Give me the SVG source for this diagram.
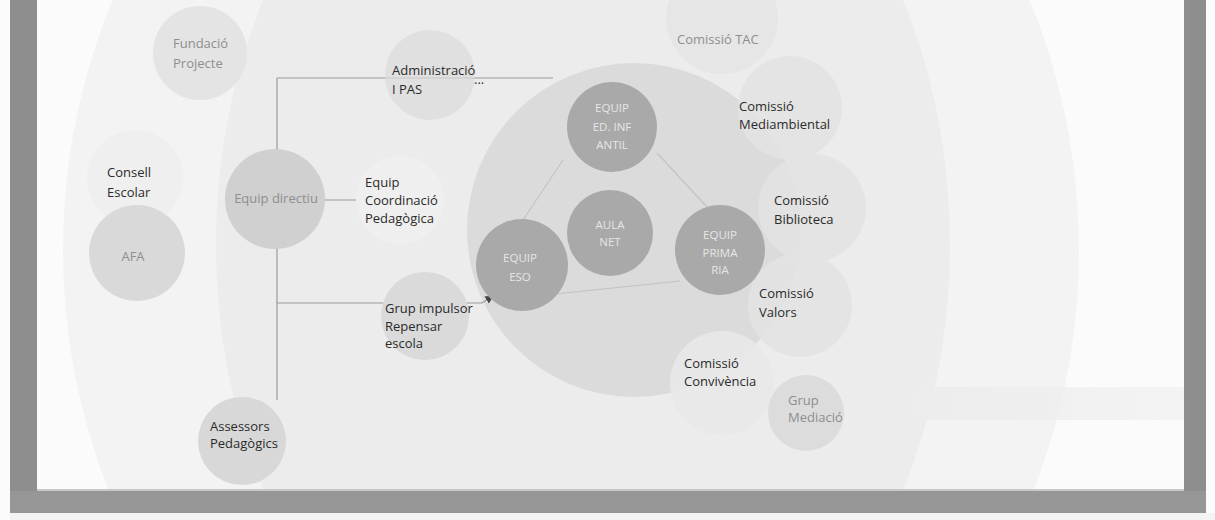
<svg xmlns="http://www.w3.org/2000/svg" width="1215" height="520" viewBox="0 0 1215 520">
<defs>
<style>
.lbl{font-family:"Open Sans","Liberation Sans",sans-serif;font-size:13px;fill:#2b2b2b}
.gry{font-family:"Open Sans","Liberation Sans",sans-serif;font-size:13px;fill:#8e8e8e}
.wht{font-family:"Open Sans","Liberation Sans",sans-serif;font-size:11.5px;fill:#e6e6e6;text-anchor:middle}
.con{stroke:#9a9a9a;stroke-width:1.2;fill:none}
.tri{stroke:#c4c4c4;stroke-width:1.2;fill:none}
.dark{fill:#a9a9a9}
.com{fill:#e3e3e3;fill-opacity:0.85}
</style>
<marker id="arr" viewBox="0 0 10 10" refX="9" refY="5" markerWidth="7" markerHeight="7" orient="auto">
<path d="M0,0 L10,5 L0,10 z" fill="#444"/>
</marker>
<linearGradient id="band" x1="0" y1="0" x2="1" y2="0">
<stop offset="0" stop-color="#ececec" stop-opacity="0"/>
<stop offset="0.2" stop-color="#ececec" stop-opacity="0.9"/>
<stop offset="1" stop-color="#eeeeee" stop-opacity="0.6"/>
</linearGradient>
</defs>
<rect width="1215" height="520" fill="#fbfbfb"/>
<g id="background">
<ellipse cx="571" cy="250" rx="508" ry="580" fill="#f3f3f3"/>
<ellipse cx="583" cy="245" rx="367" ry="500" fill="#ececec"/>
<rect x="843" y="387" width="341" height="33" fill="url(#band)"/>
<circle cx="634" cy="230" r="167" fill="#dbdbdb"/>
</g>
<g id="connectors">
<path class="con" d="M277,78 H553"/>
<path class="con" d="M277,78 V400"/>
<path class="con" d="M277,200 H363"/>
<path class="con" d="M277,303 H482 L493,296" marker-end="url(#arr)"/>
<path class="tri" d="M563,160 L523,220"/>
<path class="tri" d="M657,153 L707,207"/>
<path class="tri" d="M498,300 L680,281"/>
</g>
<g id="fundacio">
<circle cx="200" cy="53" r="47" fill="#e4e4e4"/>
<text class="gry" x="173" y="48">Fundació</text>
<text class="gry" x="173" y="68">Projecte</text>
</g>
<g id="administracio">
<circle cx="430" cy="75" r="45" fill="#dcdcdc" fill-opacity="0.7"/>
<text class="lbl" x="392" y="75">Administració</text>
<text class="lbl" x="392" y="94">I PAS</text>
<text class="lbl" x="474" y="84" font-size="11">...</text>
</g>
<g id="comissio-tac">
<circle cx="722" cy="18" r="56" fill="#e6e6e6"/>
<text class="gry" x="677" y="44">Comissió TAC</text>
</g>
<g id="comissio-mediambiental">
<circle class="com" cx="790" cy="108" r="52"/>
<text class="lbl" x="739" y="111">Comissió</text>
<text class="lbl" x="739" y="129">Mediambiental</text>
</g>
<g id="comissio-biblioteca">
<circle class="com" cx="812" cy="208" r="54"/>
<text class="lbl" x="774" y="205">Comissió</text>
<text class="lbl" x="774" y="224">Biblioteca</text>
</g>
<g id="comissio-valors">
<circle class="com" cx="800" cy="305" r="52"/>
<text class="lbl" x="759" y="298">Comissió</text>
<text class="lbl" x="759" y="317">Valors</text>
</g>
<g id="comissio-convivencia">
<circle cx="722" cy="383" r="52" fill="#e9e9e9" fill-opacity="0.85"/>
<text class="lbl" x="684" y="368">Comissió</text>
<text class="lbl" x="684" y="386">Convivència</text>
</g>
<g id="grup-mediacio">
<circle cx="806" cy="413" r="38" fill="#dcdcdc"/>
<text class="gry" x="788" y="405">Grup</text>
<text class="gry" x="788" y="422">Mediació</text>
</g>
<g id="consell-escolar">
<circle cx="135" cy="178" r="48" fill="#efefef"/>
<text class="lbl" x="107" y="177">Consell</text>
<text class="lbl" x="107" y="197">Escolar</text>
</g>
<g id="afa">
<circle cx="137" cy="253" r="48" fill="#d9d9d9"/>
<text class="gry" x="133" y="261" text-anchor="middle">AFA</text>
</g>
<g id="equip-directiu">
<circle cx="275" cy="199" r="50" fill="#d0d0d0"/>
<text class="gry" x="276" y="203" text-anchor="middle">Equip directiu</text>
</g>
<g id="equip-coordinacio">
<circle cx="400" cy="200" r="44" fill="#efefef"/>
<text class="lbl" x="365" y="187">Equip</text>
<text class="lbl" x="365" y="205">Coordinació</text>
<text class="lbl" x="365" y="223">Pedagògica</text>
</g>
<g id="grup-impulsor">
<circle cx="425" cy="316" r="44" fill="#dadada"/>
<text class="lbl" x="385" y="313">Grup impulsor</text>
<text class="lbl" x="385" y="331">Repensar</text>
<text class="lbl" x="385" y="348">escola</text>
</g>
<g id="assessors">
<circle cx="242" cy="441" r="44" fill="#d8d8d8"/>
<text class="lbl" x="210" y="431">Assessors</text>
<text class="lbl" x="210" y="448">Pedagògics</text>
</g>
<g id="equip-infantil">
<circle class="dark" cx="612" cy="127" r="45"/>
<text class="wht" x="612" y="112">EQUIP</text>
<text class="wht" x="612" y="131">ED. INF</text>
<text class="wht" x="612" y="149">ANTIL</text>
</g>
<g id="aula-net">
<circle class="dark" cx="610" cy="233" r="43"/>
<text class="wht" x="610" y="229">AULA</text>
<text class="wht" x="610" y="246">NET</text>
</g>
<g id="equip-eso">
<circle class="dark" cx="522" cy="265" r="46"/>
<text class="wht" x="520" y="262">EQUIP</text>
<text class="wht" x="520" y="281">ESO</text>
</g>
<g id="equip-primaria">
<circle class="dark" cx="720" cy="250" r="45"/>
<text class="wht" x="720" y="239">EQUIP</text>
<text class="wht" x="720" y="257">PRIMA</text>
<text class="wht" x="720" y="274">RIA</text>
</g>
<g id="frame">
<rect x="0" y="513" width="1215" height="7" fill="#f4f4f4"/>
<rect x="0" y="0" width="10" height="520" fill="#fbfbfb"/>
<rect x="10" y="0" width="27" height="513" fill="#8e8e8e"/>
<rect x="1184" y="0" width="22" height="513" fill="#8e8e8e"/>
<rect x="10" y="491" width="1196" height="22" fill="#969696"/>
<rect x="37" y="489" width="1147" height="2" fill="#c8c8c8"/>
</g>
</svg>
